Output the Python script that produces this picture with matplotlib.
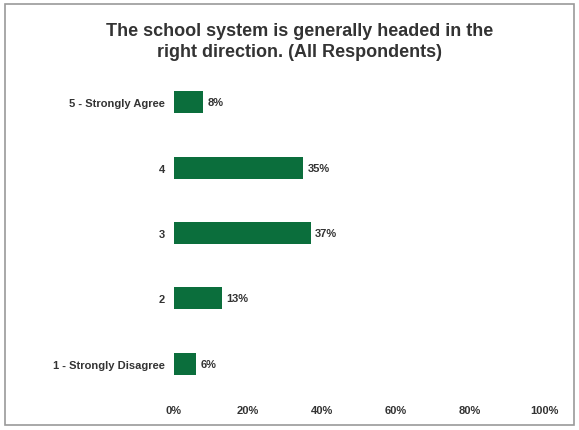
import matplotlib
matplotlib.use('Agg')
import matplotlib.pyplot as plt
from matplotlib.patches import Rectangle

plt.rcParams['font.family'] = ['Liberation Sans', 'DejaVu Sans']

categories = ['5 - Strongly Agree', '4', '3', '2', '1 - Strongly Disagree']
values = [8, 35, 37, 13, 6]
xticks = [0, 20, 40, 60, 80, 100]
xtick_labels = ['0%', '20%', '40%', '60%', '80%', '100%']

fig = plt.figure(figsize=(5.79, 4.31), dpi=100)
fig.patches.append(Rectangle((0.008, 0.012), 0.984, 0.976, transform=fig.transFigure,
                             fill=False, edgecolor='#9a9a9a', linewidth=1.2))

ax = fig.add_axes([0.300, 0.078, 0.640, 0.758])
ypos = list(range(len(categories)))[::-1]
ax.barh(ypos, values, height=0.34, color='#0b6e3c')

for y, v in zip(ypos, values):
    ax.text(v + 1.2, y, f'{v}%', va='center', ha='left', fontsize=8,
            fontweight='bold', color='#333333')

ax.set_xlim(0, 100)
ax.set_ylim(-0.5, 4.5)
ax.set_yticks(ypos)
ax.set_yticklabels(categories, fontsize=8, fontweight='bold', color='#333333')
ax.set_xticks(xticks)
ax.set_xticklabels(xtick_labels, fontsize=8, fontweight='bold', color='#333333')
ax.tick_params(length=0, pad=6)
for s in ax.spines.values():
    s.set_visible(False)

fig.text(0.518, 0.903, 'The school system is generally headed in the\nright direction. (All Respondents)',
         ha='center', va='center', fontsize=13, fontweight='bold', color='#333333',
         linespacing=1.35)

fig.savefig('out.png', dpi=100)
